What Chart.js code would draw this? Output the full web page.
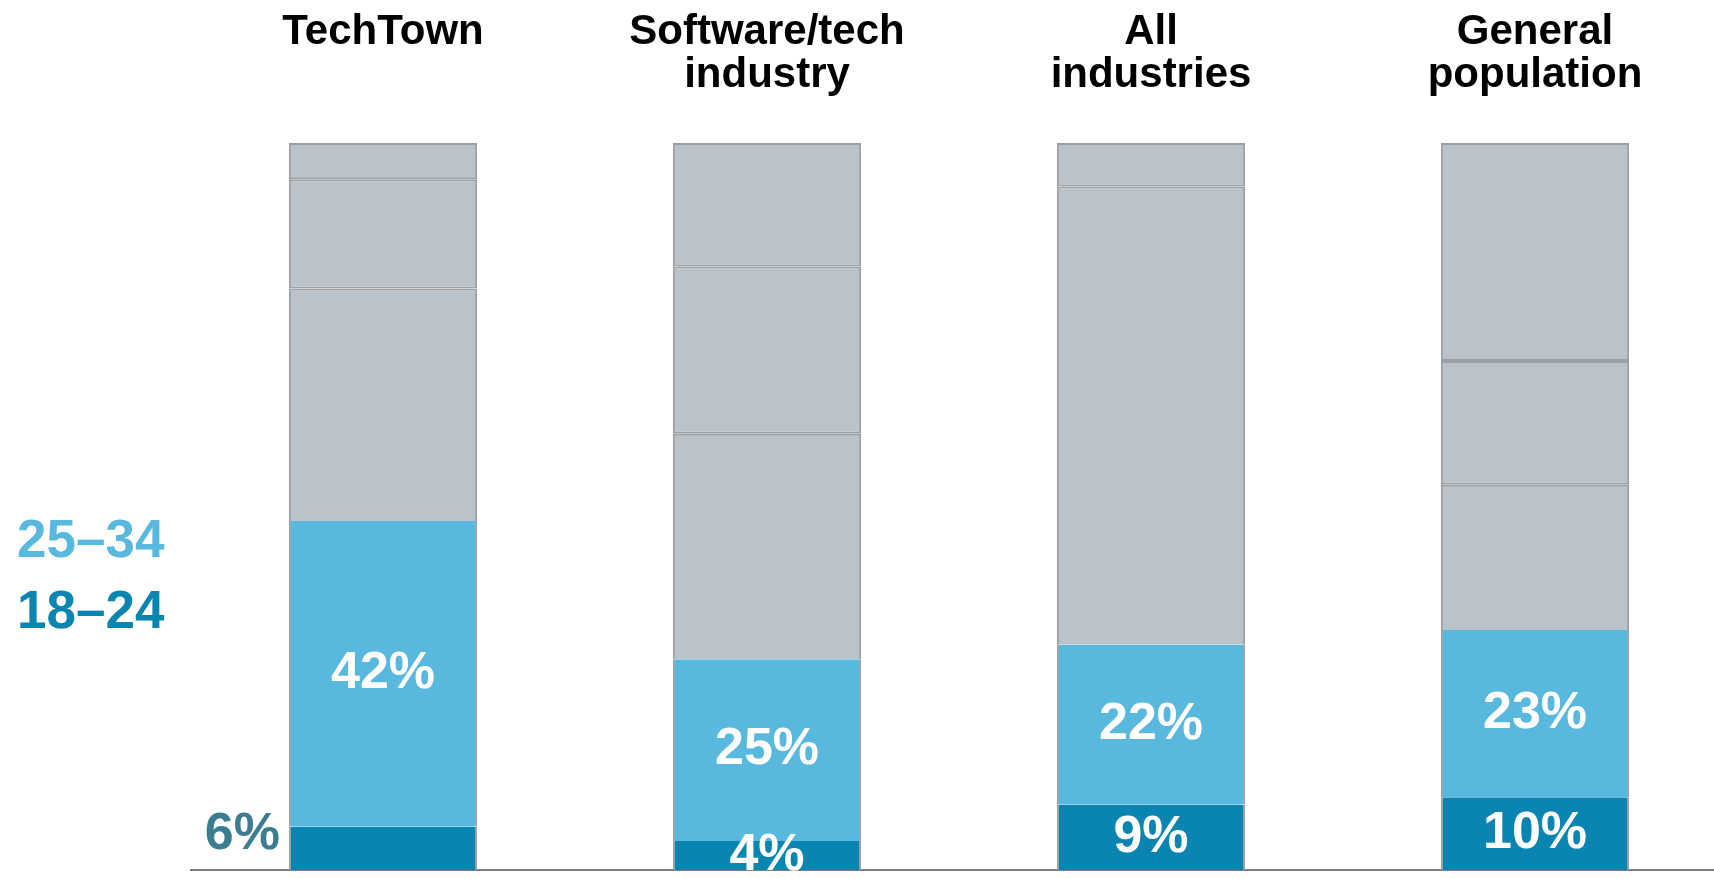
<!DOCTYPE html>
<html>
<head>
<meta charset="utf-8">
<script src="https://cdn.jsdelivr.net/npm/chart.js@4.4.0/dist/chart.umd.min.js"></script>
<style>
  html, body { margin: 0; padding: 0; background: #fff; overflow: hidden; }
  #wrap { position: relative; width: 1714px; height: 878px; overflow: hidden; }
  #chart { position: absolute; left: 0; top: 0; }
  .age { position: absolute; left: 17px; font: bold 53px "Liberation Sans", Arial, sans-serif; line-height: 1; }
</style>
</head>
<body>
<div id="wrap">
  <canvas id="chart" width="1730" height="878"></canvas>
  <div class="age" style="top:512px;color:#58b8de">25–34</div>
  <div class="age" style="top:583px;color:#0a84b0">18–24</div>
</div>
<script>
// share of each group by age band, bottom of the stack first
const groups = [['TechTown', ''], ['Software/tech', 'industry'], ['All', 'industries'], ['General', 'population']]
const age18to24 = [6, 4, 9, 10]
const age25to34 = [42, 25, 22, 23]
const olderA = [32, 31, 63, 20]
const olderB = [15, 23, 6, 17]
const olderC = [5, 17, null, 30]

// 18-24 label sits beside the bar when the band is too thin
const outsideLabel = [true, false, false, false]

const FONT = '"Liberation Sans", Arial, sans-serif'
const GRAY = '#b9c3c9'
const GRAY_EDGE = '#9ba0a4'

const valueLabels = {
  id: 'valueLabels',
  afterDraw(chart) {
    const ctx = chart.ctx
    ctx.save()
    ctx.font = 'bold 52px ' + FONT
    ctx.textBaseline = 'middle'
    for (let di = 0; di < 2; di++) {
      const meta = chart.getDatasetMeta(di)
      const values = chart.data.datasets[di].data
      meta.data.forEach((bar, i) => {
        const text = values[i] + '%'
        if (di === 0 && outsideLabel[i]) {
          ctx.fillStyle = '#3d7d92'
          ctx.textAlign = 'right'
          ctx.fillText(text, bar.x - bar.width / 2 - 9, bar.y + 8)
        } else {
          ctx.fillStyle = '#ffffff'
          ctx.textAlign = 'center'
          ctx.fillText(text, bar.x, (bar.y + bar.base) / 2)
        }
      })
    }
    ctx.restore()
  }
}

const sideEdge = { left: 2, right: 2, top: 0, bottom: 0 }

new Chart('chart', {
  type: 'bar',
  data: {
    labels: groups,
    datasets: [
      { label: '18–24', data: age18to24, backgroundColor: '#0a84b0', borderColor: GRAY_EDGE, borderWidth: sideEdge, borderSkipped: false },
      { label: '25–34', data: age25to34, backgroundColor: '#58b8de', borderColor: GRAY_EDGE, borderWidth: sideEdge, borderSkipped: false },
      { label: 'older A', data: olderA, backgroundColor: GRAY, borderColor: GRAY_EDGE, borderWidth: 2, borderSkipped: 'bottom' },
      { label: 'older B', data: olderB, backgroundColor: GRAY, borderColor: GRAY_EDGE, borderWidth: 2, borderSkipped: false },
      { label: 'older C', data: olderC, backgroundColor: GRAY, borderColor: GRAY_EDGE, borderWidth: 2, borderSkipped: false }
    ]
  },
  options: {
    responsive: false,
    animation: false,
    devicePixelRatio: 1,
    layout: { padding: { left: 191, right: 3, top: 0, bottom: 0 } },
    datasets: { bar: { categoryPercentage: 1, barPercentage: 0.49 } },
    plugins: { legend: { display: false }, tooltip: { enabled: false } },
    scales: {
      x: {
        position: 'top',
        stacked: true,
        grid: { display: false },
        border: { display: false },
        afterFit(scale) { scale.height = 143 },
        ticks: {
          color: '#000',
          autoSkip: false,
          maxRotation: 0,
          padding: 38,
          font: { family: FONT, size: 42, weight: 'bold', lineHeight: 1.03 }
        }
      },
      base: {
        axis: 'x',
        type: 'category',
        position: 'bottom',
        z: 1,
        grid: { display: false },
        ticks: { display: false },
        border: { display: true, color: '#7d7d7d', width: 2 }
      },
      y: { stacked: true, display: false, min: 0, max: 100 }
    }
  },
  plugins: [valueLabels]
})
</script>
</body>
</html>
